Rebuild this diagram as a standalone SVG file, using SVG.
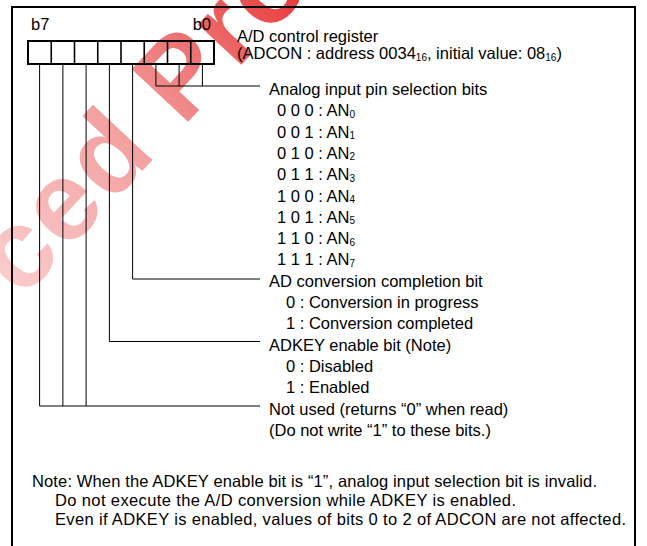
<svg xmlns="http://www.w3.org/2000/svg" width="647" height="546" viewBox="0 0 647 546">
<defs>
<style>
.t{font-family:"Liberation Sans",Arial,sans-serif;font-size:16.5px;fill:#000;}
.s{font-size:10px;}
.ln{stroke:#000;stroke-width:1;fill:none;}
.wm{font-family:"Liberation Sans",Arial,sans-serif;font-weight:bold;font-size:112px;letter-spacing:3px;}
</style>
<linearGradient id="wmg" x1="0" y1="0" x2="1" y2="0">
<stop offset="0" stop-color="#fbcccc"/>
<stop offset="0.5" stop-color="#f29a9a"/>
<stop offset="1" stop-color="#e83232"/>
</linearGradient>
</defs>
<rect width="647" height="546" fill="#fff"/>
<g id="watermark">
<text class="wm" x="22" y="300" fill="url(#wmg)" transform="rotate(-47 22 300)">ced Pro</text>
</g>
<rect id="frame" x="12" y="7" width="623" height="560" fill="none" stroke="#000" stroke-width="2"/>
<g id="register">
<rect x="28" y="41" width="186" height="23" fill="none" stroke="#000" stroke-width="2"/>
<path d="M51.25 41V64M74.5 41V64M97.75 41V64M121 41V64M144.25 41V64M167.5 41V64M190.75 41V64" stroke="#000" stroke-width="1.6" fill="none"/>
<text class="t" x="31" y="30">b7</text>
<text class="t" x="211" y="30" text-anchor="end">b0</text>
<text class="t" x="237" y="42">A/D control register</text>
<text class="t" x="237" y="59">(ADCON : address 0034<tspan class="s" dy="1.5">16</tspan><tspan dy="-1.5">, initial value: 08</tspan><tspan class="s" dy="1.5">16</tspan><tspan dy="-1.5">)</tspan></text>
</g>
<g id="connectors">
<path class="ln" d="M202.4 65V86M179.1 65V86M155.9 65V86H260"/>
<path class="ln" d="M132.6 65V279H260"/>
<path class="ln" d="M109.4 65V341.5H260"/>
<path class="ln" d="M86.1 65V406M62.9 65V406M39.6 65V406H260"/>
</g>
<g id="analog-bits">
<text class="t" x="269" y="95">Analog input pin selection bits</text>
<text class="t" x="277" y="116.3">0 0 0 : AN<tspan class="s" dy="1.5">0</tspan></text>
<text class="t" x="277" y="137.6">0 0 1 : AN<tspan class="s" dy="1.5">1</tspan></text>
<text class="t" x="277" y="158.9">0 1 0 : AN<tspan class="s" dy="1.5">2</tspan></text>
<text class="t" x="277" y="180.2">0 1 1 : AN<tspan class="s" dy="1.5">3</tspan></text>
<text class="t" x="277" y="201.5">1 0 0 : AN<tspan class="s" dy="1.5">4</tspan></text>
<text class="t" x="277" y="222.8">1 0 1 : AN<tspan class="s" dy="1.5">5</tspan></text>
<text class="t" x="277" y="244">1 1 0 : AN<tspan class="s" dy="1.5">6</tspan></text>
<text class="t" x="277" y="265.4">1 1 1 : AN<tspan class="s" dy="1.5">7</tspan></text>
</g>
<g id="ad-completion-bit">
<text class="t" x="269" y="286.7">AD conversion completion bit</text>
<text class="t" x="286" y="308">0 : Conversion in progress</text>
<text class="t" x="286" y="329.3">1 : Conversion completed</text>
</g>
<g id="adkey-bit">
<text class="t" x="269" y="350.6">ADKEY enable bit (Note)</text>
<text class="t" x="286" y="372">0 : Disabled</text>
<text class="t" x="286" y="393.2">1 : Enabled</text>
</g>
<g id="not-used-bits">
<text class="t" x="269" y="414.5">Not used (returns “0” when read)</text>
<text class="t" x="269" y="436">(Do not write “1” to these bits.)</text>
</g>
<g id="note">
<text class="t" x="32" y="487" textLength="565" lengthAdjust="spacing">Note: When the ADKEY enable bit is “1”, analog input selection bit is invalid.</text>
<text class="t" x="55" y="506" textLength="461" lengthAdjust="spacing">Do not execute the A/D conversion while ADKEY is enabled.</text>
<text class="t" x="55" y="525" textLength="571" lengthAdjust="spacing">Even if ADKEY is enabled, values of bits 0 to 2 of ADCON are not affected.</text>
</g>
</svg>
